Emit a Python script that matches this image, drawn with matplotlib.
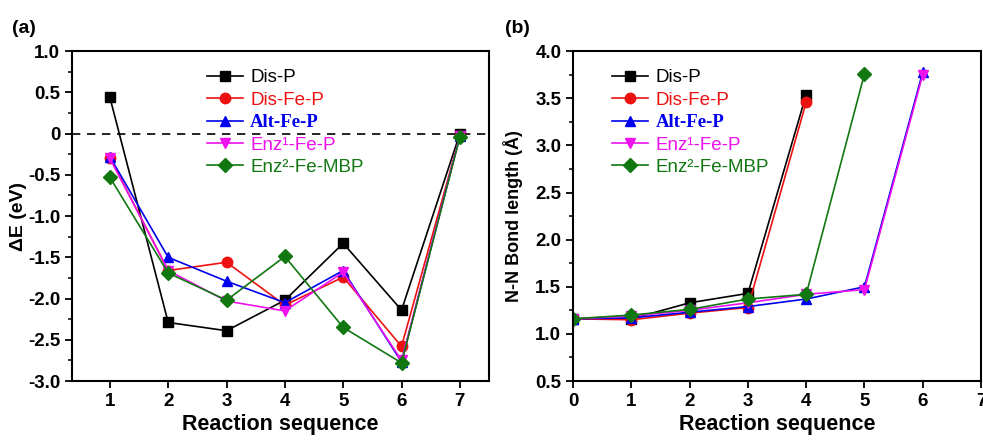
import matplotlib
matplotlib.use("Agg")
import matplotlib.pyplot as plt
from matplotlib.ticker import MultipleLocator

plt.rcParams['font.family'] = ['Liberation Sans', 'DejaVu Sans']

names = ["Dis-P", "Dis-Fe-P", "Alt-Fe-P", "Enz\u00b9-Fe-P", "Enz\u00b2-Fe-MBP"]
colors = ["#000000", "#ee1111", "#0000ee", "#ee11ee", "#117711"]
markers = ["s", "o", "^", "v", "D"]

# Panel (a): reaction energies
steps_a = [1, 2, 3, 4, 5, 6, 7]
dE_dis_p = [0.44, -2.29, -2.39, -2.02, -1.33, -2.14, 0.0]
dE_dis_fe_p = [-0.29, -1.66, -1.56, -2.08, -1.74, -2.58, -0.03]
dE_alt_fe_p = [-0.28, -1.50, -1.79, -2.05, -1.66, -2.77, -0.03]
dE_enz1_fe_p = [-0.30, -1.66, -2.03, -2.15, -1.68, -2.75, -0.03]
dE_enz2_fe_mbp = [-0.53, -1.69, -2.02, -1.49, -2.35, -2.78, -0.04]
yticks_a = [-3.0, -2.5, -2.0, -1.5, -1.0, -0.5, 0, 0.5, 1.0]
yticklabels_a = ["-3.0", "-2.5", "-2.0", "-1.5", "-1.0", "-0.5", "0", "0.5", "1.0"]

# Panel (b): N-N bond length
nn_dis_p_x = [0, 1, 2, 3, 4]
nn_dis_p = [1.16, 1.16, 1.33, 1.43, 3.54]
nn_dis_fe_p_x = [0, 1, 2, 3, 4]
nn_dis_fe_p = [1.16, 1.15, 1.22, 1.28, 3.46]
nn_alt_fe_p_x = [0, 1, 2, 3, 4, 5, 6]
nn_alt_fe_p = [1.16, 1.17, 1.23, 1.29, 1.37, 1.50, 3.78]
nn_enz1_fe_p_x = [0, 1, 2, 3, 4, 5, 6]
nn_enz1_fe_p = [1.16, 1.19, 1.25, 1.33, 1.42, 1.47, 3.75]
nn_enz2_fe_mbp_x = [0, 1, 2, 3, 4, 5]
nn_enz2_fe_mbp = [1.16, 1.20, 1.26, 1.37, 1.42, 3.76]

fig = plt.figure(figsize=(9.83, 4.41), dpi=100)
axa = fig.add_axes([0.0732, 0.136, 0.4243, 0.748])
axb = fig.add_axes([0.583, 0.136, 0.415, 0.748])

series_a = [dE_dis_p, dE_dis_fe_p, dE_alt_fe_p, dE_enz1_fe_p, dE_enz2_fe_mbp]
for y, c, m, n in zip(series_a, colors, markers, names):
    axa.plot(steps_a, y, color=c, marker=m, markersize=7.5, lw=1.2, label=n)
axa.axhline(0, color="black", ls=(0, (5, 4)), lw=1.2, zorder=0)

series_b = [(nn_dis_p_x, nn_dis_p), (nn_dis_fe_p_x, nn_dis_fe_p),
            (nn_alt_fe_p_x, nn_alt_fe_p), (nn_enz1_fe_p_x, nn_enz1_fe_p),
            (nn_enz2_fe_mbp_x, nn_enz2_fe_mbp)]
for (x, y), c, m, n in zip(series_b, colors, markers, names):
    axb.plot(x, y, color=c, marker=m, markersize=7.5, lw=1.2, label=n)

axa.set_xlim(0.35, 7.5)
axa.set_ylim(-3.0, 1.0)
axa.set_xticks(steps_a)
axa.set_yticks(yticks_a)
axa.set_yticklabels(yticklabels_a)
axa.yaxis.set_minor_locator(MultipleLocator(0.25))

axb.set_xlim(0, 7)
axb.set_ylim(0.5, 4.0)
axb.set_xticks(range(0, 8))
axb.yaxis.set_major_locator(MultipleLocator(0.5))
axb.yaxis.set_minor_locator(MultipleLocator(0.25))

for ax in (axa, axb):
    for s in ax.spines.values():
        s.set_linewidth(1.5)
    ax.tick_params(axis="both", which="major", direction="out", length=5, width=1.3,
                   labelsize=13.5)
    ax.tick_params(axis="y", which="minor", direction="out", length=3, width=1.1)
    for lab in ax.get_xticklabels() + ax.get_yticklabels():
        lab.set_fontweight("bold")

axa.set_xlabel("Reaction sequence", fontsize=15.5, fontweight="bold", labelpad=3)
axa.set_ylabel("\u0394E (eV)", fontsize=14, fontweight="bold")
axa.yaxis.set_label_coords(-0.108, 0.5)
axb.set_xlabel("Reaction sequence", fontsize=15.5, fontweight="bold", labelpad=3)
axb.set_ylabel("N-N Bond length (\u00c5)", fontsize=13, fontweight="bold")
axb.yaxis.set_label_coords(-0.123, 0.5)

fig.text(0.012, 0.925, "(a)", fontsize=14, fontweight="bold")
fig.text(0.514, 0.925, "(b)", fontsize=14, fontweight="bold")

def style_legend(leg):
    for txt, c in zip(leg.get_texts(), colors):
        txt.set_color(c)
        if txt.get_text() == "Alt-Fe-P":
            txt.set_fontfamily(["Liberation Serif"])
            txt.set_fontweight("bold")

leg_kw = dict(loc="upper left", frameon=False, fontsize=13.5, handlelength=1.9,
              handletextpad=0.4, labelspacing=0.28, borderaxespad=0, borderpad=0)
lega = axa.legend(bbox_to_anchor=(0.324, 0.945), **leg_kw)
style_legend(lega)
legb = axb.legend(bbox_to_anchor=(0.096, 0.945), **leg_kw)
style_legend(legb)

fig.savefig("out.png", dpi=100)
